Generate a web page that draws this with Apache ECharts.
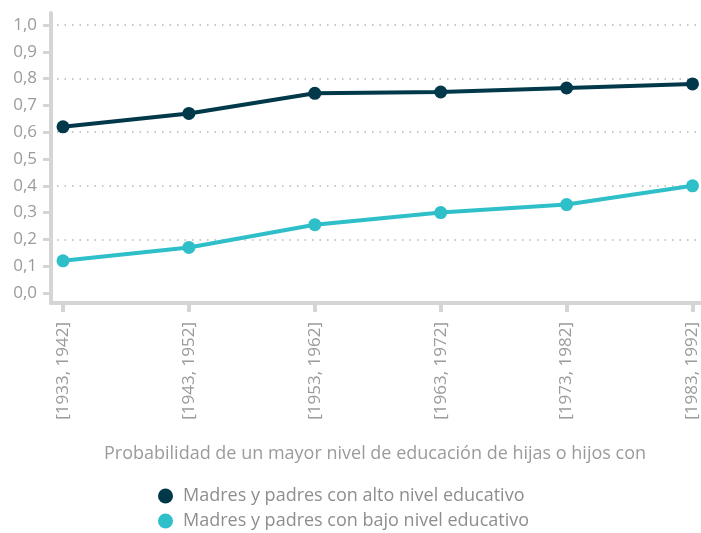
<!DOCTYPE html>
<html>
<head>
<meta charset="utf-8">
<script src="https://cdn.jsdelivr.net/npm/echarts@6/dist/echarts.min.js"></script>
<style>
  html, body { margin: 0; padding: 0; background: #fff; }
  #chart { width: 701px; height: 533px; }
</style>
</head>
<body>
<div id="chart"></div>
<script>
// cohortes de nacimiento
const cohorts = ['[1933, 1942]', '[1943, 1952]', '[1953, 1962]', '[1963, 1972]', '[1973, 1982]', '[1983, 1992]'];
const seriesNames = ['Madres y padres con alto nivel educativo', 'Madres y padres con bajo nivel educativo'];
const altoValues = [0.62, 0.67, 0.745, 0.75, 0.765, 0.78];
const bajoValues = [0.12, 0.17, 0.255, 0.30, 0.33, 0.40];
const yTicks = { min: 0, max: 1, step: 0.1, gridStep: 0.2 };

const FONT = 'Open Sans';
const AXIS_GRAY = '#d5d5d5';
const TEXT_GRAY = '#9b9b9b';

const chart = echarts.init(document.getElementById('chart'));

const option = {
  textStyle: { fontFamily: FONT },
  title: {
    text: 'Probabilidad de un mayor nivel de educación de hijas o hijos con',
    left: 370,
    top: 440,
    textAlign: 'center',
    textStyle: { color: TEXT_GRAY, fontSize: 18, fontWeight: 'normal', fontFamily: FONT }
  },
  legend: {
    data: seriesNames,
    orient: 'vertical',
    left: 153,
    top: 482,
    height: 120,
    icon: 'circle',
    itemWidth: 25,
    itemHeight: 15,
    itemGap: 7,
    textStyle: { color: '#8e8e8e', fontSize: 18, fontFamily: FONT }
  },
  grid: [
    // datos
    { left: 63, right: 7, top: 25, height: 268 },
    // marco de los ejes
    { left: 51, right: 0, top: 13, bottom: 230 },
    // lineas punteadas
    { left: 57, right: 0, top: 25, height: 268 }
  ],
  xAxis: [
    {
      type: 'category',
      gridIndex: 0,
      data: cohorts,
      boundaryGap: false,
      offset: 10,
      axisLine: { show: false, onZero: false },
      axisTick: { show: true, length: 9, lineStyle: { color: AXIS_GRAY, width: 4 } },
      axisLabel: { rotate: 90, margin: 19, color: TEXT_GRAY, fontSize: 17, fontFamily: FONT },
      splitLine: { show: false }
    },
    {
      type: 'value',
      gridIndex: 1,
      min: 0, max: 1,
      axisLine: { show: true, onZero: false, lineStyle: { color: AXIS_GRAY, width: 4 } },
      axisTick: { show: false },
      axisLabel: { show: false },
      splitLine: { show: false }
    },
    {
      type: 'value',
      gridIndex: 2,
      min: 0, max: 1,
      show: false
    }
  ],
  yAxis: [
    {
      type: 'value',
      gridIndex: 0,
      min: yTicks.min,
      max: yTicks.max,
      interval: yTicks.step,
      offset: 12,
      axisLine: { show: false, onZero: false },
      axisTick: { show: true, length: 8, lineStyle: { color: AXIS_GRAY, width: 3 } },
      axisLabel: {
        margin: 14,
        color: TEXT_GRAY,
        fontSize: 17,
        fontFamily: FONT,
        formatter: v => v.toFixed(1).replace('.', ',')
      },
      splitLine: { show: false }
    },
    {
      type: 'value',
      gridIndex: 1,
      min: 0, max: 1,
      axisLine: { show: true, onZero: false, lineStyle: { color: AXIS_GRAY, width: 4 } },
      axisTick: { show: false },
      axisLabel: { show: false },
      splitLine: { show: false }
    },
    {
      type: 'value',
      gridIndex: 2,
      min: yTicks.min,
      max: yTicks.max,
      interval: yTicks.gridStep,
      axisLine: { show: false },
      axisTick: { show: false },
      axisLabel: { show: false },
      splitLine: {
        show: true,
        showMinLine: false,
        lineStyle: { color: '#b5b5b5', width: 1.5, type: [1.5, 6] }
      }
    }
  ],
  series: [
    {
      name: seriesNames[0],
      type: 'line',
      xAxisIndex: 0,
      yAxisIndex: 0,
      data: altoValues,
      symbol: 'circle',
      symbolSize: 13,
      lineStyle: { width: 4, color: '#01394a' },
      itemStyle: { color: '#01394a' },
      z: 3
    },
    {
      name: seriesNames[1],
      type: 'line',
      xAxisIndex: 0,
      yAxisIndex: 0,
      data: bajoValues,
      symbol: 'circle',
      symbolSize: 13,
      lineStyle: { width: 4, color: '#2ebfc9' },
      itemStyle: { color: '#2ebfc9' },
      z: 3
    }
  ]
};

chart.setOption(option);
</script>
</body>
</html>
